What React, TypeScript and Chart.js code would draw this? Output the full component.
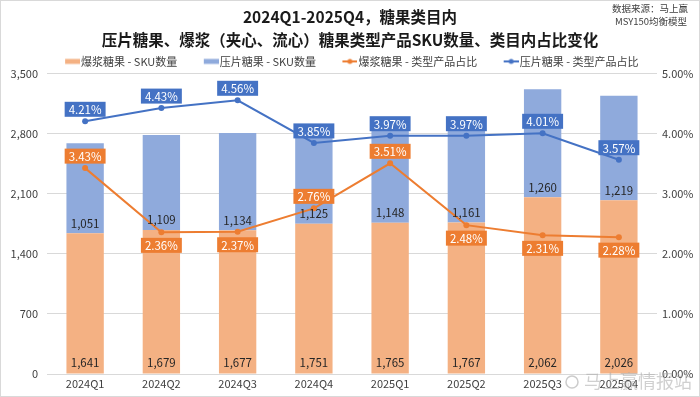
import React, { useEffect, useRef } from "react";
import { Chart, registerables } from "chart.js";
Chart.register(...registerables);

const categories = ["2024Q1", "2024Q2", "2024Q3", "2024Q4", "2025Q1", "2025Q2", "2025Q3", "2025Q4"];
const baojiangSku = [1641, 1679, 1677, 1751, 1765, 1767, 2062, 2026];
const yapianSku = [1051, 1109, 1134, 1125, 1148, 1161, 1260, 1219];
const baojiangPct = [3.43, 2.36, 2.37, 2.76, 3.51, 2.48, 2.31, 2.28];
const yapianPct = [4.21, 4.43, 4.56, 3.85, 3.97, 3.97, 4.01, 3.57];
const leftTicks = [0, 700, 1400, 2100, 2800, 3500];
const rightTicks = [0, 1, 2, 3, 4, 5];

const titleLines = ["2024Q1-2025Q4，糖果类目内", "压片糖果、爆浆（夹心、流心）糖果类型产品SKU数量、类目内占比变化"];
const sourceLines = ["数据来源：马上赢", "MSY150均衡模型"];
const watermark = "马上赢情报站";
const orangeLabelSide = ["up", "down", "down", "up", "up", "down", "down", "down"];

const ORANGE_BAR = "#F4B183";
const BLUE_BAR = "#8FAADC";
const ORANGE_LINE = "#ED7D31";
const BLUE_LINE = "#4472C4";
const FONT = "'Noto Sans CJK SC', 'Noto Sans', sans-serif";

const ICON_BOX = 36;

function fmt(n: number) {
  return n.toLocaleString("en-US");
}

function icon(color: string, type: "bar" | "line") {
  const c = document.createElement("canvas");
  c.width = ICON_BOX + 9;
  c.height = 10;
  const ctx = c.getContext("2d")!;
  const x0 = ICON_BOX + 9 - 15;
  if (type === "bar") {
    ctx.fillStyle = color;
    ctx.fillRect(x0, 2.5, 15, 5);
  } else {
    ctx.strokeStyle = color;
    ctx.lineWidth = 2;
    ctx.beginPath();
    ctx.moveTo(x0, 5);
    ctx.lineTo(x0 + 15, 5);
    ctx.stroke();
    ctx.fillStyle = color;
    ctx.beginPath();
    ctx.arc(x0 + 7.5, 5, 2.5, 0, Math.PI * 2);
    ctx.fill();
  }
  return c;
}

const decorPlugin = {
  id: "decor",
  beforeDraw(chart: any) {
    const ctx = chart.ctx;
    ctx.save();
    ctx.fillStyle = "#ffffff";
    ctx.fillRect(0, 0, chart.width, chart.height);
    ctx.restore();
  },
  afterLayout(chart: any) {
    if (chart.legend) {
      chart.legend.left -= 11;
      chart.legend.right -= 11;
      chart.legend.top += 3;
      chart.legend.bottom += 3;
    }
  },
  afterDraw(chart: any) {
    const ctx = chart.ctx;
    ctx.save();
    ctx.fillStyle = "#404040";
    ctx.font = `9.5px ${FONT}`;
    ctx.textAlign = "center";
    ctx.textBaseline = "middle";
    ctx.fillText(sourceLines[0], 650, 8);
    ctx.fillText(sourceLines[1], 651, 21);
    ctx.font = `18px ${FONT}`;
    ctx.textAlign = "left";
    ctx.fillStyle = "rgba(170,170,170,0.55)";
    ctx.fillText(watermark, 584, 381);
    ctx.strokeStyle = "rgba(170,170,170,0.6)";
    ctx.lineWidth = 1.5;
    ctx.beginPath();
    ctx.arc(572, 382, 6, 0, Math.PI * 2);
    ctx.stroke();
    ctx.strokeStyle = "#d9d9d9";
    ctx.lineWidth = 1;
    ctx.strokeRect(0.5, 0.5, chart.width - 1, chart.height - 1);
    ctx.restore();
  },
};

const labelPlugin = {
  id: "labels",
  afterDatasetsDraw(chart: any) {
    const ctx = chart.ctx;
    ctx.save();
    ctx.textAlign = "center";
    ctx.textBaseline = "middle";
    ctx.font = `11.5px ${FONT}`;
    ctx.fillStyle = "#262626";
    [0, 1].forEach((di) => {
      const meta = chart.getDatasetMeta(di);
      const data = chart.data.datasets[di].data as number[];
      meta.data.forEach((el: any, i: number) => {
        const off = di === 0 ? 11 : 10;
        ctx.fillText(fmt(data[i]), el.x, el.base - off);
      });
    });
    [2, 3].forEach((di) => {
      const meta = chart.getDatasetMeta(di);
      const ds = chart.data.datasets[di];
      const data = ds.data as number[];
      meta.data.forEach((el: any, i: number) => {
        const txt = data[i].toFixed(2) + "%";
        const w = ctx.measureText(txt).width + 8;
        const h = 15;
        const side = di === 2 ? orangeLabelSide[i] : "up";
        const cy = side === "up" ? el.y - 12 : el.y + 13;
        ctx.fillStyle = ds.borderColor;
        ctx.fillRect(el.x - w / 2, cy - h / 2, w, h);
        ctx.fillStyle = "#ffffff";
        ctx.fillText(txt, el.x, cy + 0.5);
      });
    });
    ctx.restore();
  },
};

export default function App() {
  const ref = useRef<HTMLCanvasElement>(null);
  useEffect(() => {
    const chart = new Chart(ref.current!, {
      type: "bar",
      data: {
        labels: categories,
        datasets: [
          {
            type: "bar",
            label: "爆浆糖果 - SKU数量",
            data: baojiangSku,
            backgroundColor: ORANGE_BAR,
            borderColor: ORANGE_BAR,
            yAxisID: "y",
            stack: "s",
            order: 2,
            categoryPercentage: 1,
            barPercentage: 0.49,
          } as any,
          {
            type: "bar",
            label: "压片糖果 - SKU数量",
            data: yapianSku,
            backgroundColor: BLUE_BAR,
            borderColor: BLUE_BAR,
            yAxisID: "y",
            stack: "s",
            order: 2,
            categoryPercentage: 1,
            barPercentage: 0.49,
          } as any,
          {
            type: "line",
            label: "爆浆糖果 - 类型产品占比",
            data: baojiangPct,
            borderColor: ORANGE_LINE,
            backgroundColor: ORANGE_LINE,
            borderWidth: 2,
            pointRadius: 3,
            pointBorderWidth: 0,
            yAxisID: "y1",
            order: 1,
          } as any,
          {
            type: "line",
            label: "压片糖果 - 类型产品占比",
            data: yapianPct,
            borderColor: BLUE_LINE,
            backgroundColor: BLUE_LINE,
            borderWidth: 2,
            pointRadius: 3,
            pointBorderWidth: 0,
            yAxisID: "y1",
            order: 1,
          } as any,
        ],
      },
      options: {
        animation: false,
        responsive: false,
        layout: { padding: { left: 0, right: 0, top: 0, bottom: 0 } },
        plugins: {
          tooltip: { enabled: false },
          title: {
            display: true,
            text: titleLines,
            color: "#1a1a1a",
            font: { family: FONT, size: 15.5, weight: "bold", lineHeight: 1.48 },
            padding: { top: 6, bottom: 0 },
          },
          legend: {
            display: true,
            labels: {
              font: { family: FONT, size: 11 },
              color: "#404040",
              usePointStyle: true,
              pointStyleWidth: ICON_BOX,
              boxHeight: 10,
              padding: 1,
              generateLabels: (chart: any) =>
                chart.data.datasets.map((ds: any, i: number) => ({
                  text: ds.label,
                  fillStyle: ds.backgroundColor,
                  strokeStyle: ds.borderColor,
                  lineWidth: 0,
                  hidden: false,
                  datasetIndex: i,
                  fontColor: "#404040",
                  pointStyle: icon(ds.type === "line" ? ds.borderColor : ds.backgroundColor, ds.type === "line" ? "line" : "bar"),
                })),
            },
          },
        },
        scales: {
          x: {
            stacked: true,
            grid: { display: false, drawTicks: false },
            border: { display: true, color: "#d9d9d9" },
            ticks: { color: "#404040", font: { family: FONT, size: 11 }, padding: 3 },
            afterFit: (s: any) => {
              s.height = 23;
            },
          },
          y: {
            stacked: true,
            position: "left",
            min: 0,
            max: 3500,
            afterBuildTicks: (s: any) => {
              s.ticks = leftTicks.map((v) => ({ value: v }));
            },
            grid: { color: "#d9d9d9", drawTicks: false },
            border: { display: false },
            ticks: {
              color: "#404040",
              font: { family: FONT, size: 11 },
              padding: 9,
              callback: (v: any) => fmt(Number(v)),
            },
            afterFit: (s: any) => {
              s.width = 47;
            },
          },
          y1: {
            position: "right",
            min: 0,
            max: 5,
            afterBuildTicks: (s: any) => {
              s.ticks = rightTicks.map((v) => ({ value: v }));
            },
            grid: { display: false, drawTicks: false },
            border: { display: false },
            ticks: {
              color: "#404040",
              font: { family: FONT, size: 11 },
              padding: 5,
              callback: (v: any) => Number(v).toFixed(2) + "%",
            },
            afterFit: (s: any) => {
              s.width = 43;
            },
          },
        },
      },
      plugins: [decorPlugin, labelPlugin],
    } as any);
    return () => chart.destroy();
  }, []);
  return (
    <div style={{ position: "fixed", left: 0, top: 0, width: 700, height: 397 }}>
      <canvas ref={ref} width={700} height={397} style={{ width: 700, height: 397, display: "block" }} />
    </div>
  );
}
